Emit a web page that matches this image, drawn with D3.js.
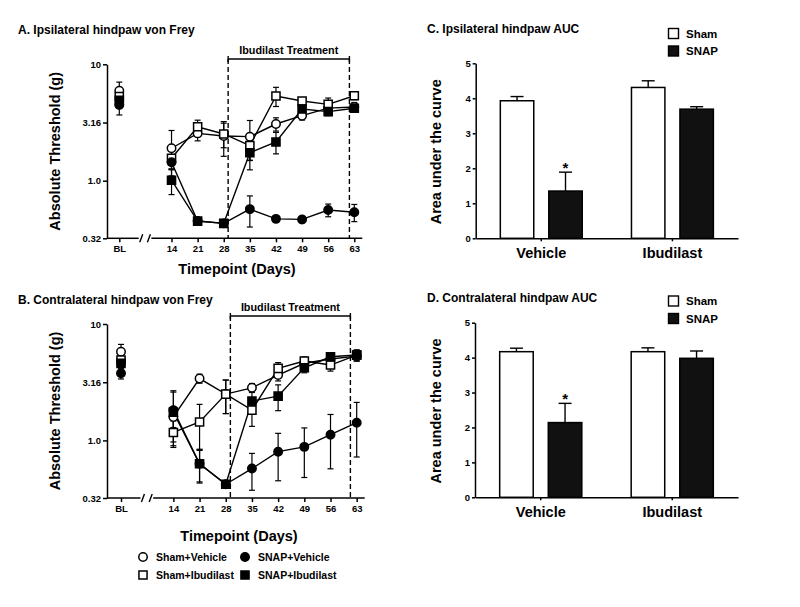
<!DOCTYPE html>
<html><head><meta charset="utf-8">
<script src="https://cdn.jsdelivr.net/npm/d3@7"></script>
<style>
body{margin:0;background:#fff}
svg{display:block}
text{font-family:"Liberation Sans",Arial,sans-serif;font-weight:bold;fill:#000}
</style>
</head><body><svg id="c" width="800" height="607"></svg>
<script>
// ---------- data ----------
const days = [0,14,21,28,35,42,49,56,63];
const dayLabels = ["BL","14","21","28","35","42","49","56","63"];
const groups = ["Sham+Vehicle","Sham+Ibudilast","SNAP+Vehicle","SNAP+Ibudilast"];
const treatmentWindow = [29.5, 61.5];
const thresholdTicks = [0.32, 1.0, 3.16, 10];
const thresholdTickLabels = ["0.32","1.0","3.16","10"];

// Panel A – ipsilateral
const ipsiShamVeh    = [5.93,1.90,2.55,2.42,2.39,3.07,3.62,4.20,4.30];
const ipsiShamVehSem = [1.10,0.80,0.35,0.80,0.90,0.40,0.30,0.40,0.40];
const ipsiShamIbu    = [5.27,1.56,2.91,2.52,2.00,5.34,4.84,4.53,5.37];
const ipsiShamIbuSem = [0.50,0.30,0.40,0.60,0.50,1.00,0.30,0.60,0.40];
const ipsiSnapVeh    = [4.47,1.44,0.45,0.43,0.57,0.47,0.465,0.56,0.535];
const ipsiSnapVehSem = [0.80,0.20,0.03,0.03,0.17,0.03,0.03,0.07,0.09];
const ipsiSnapIbu    = [4.90,1.01,0.45,0.43,1.74,2.15,4.13,3.92,4.19];
const ipsiSnapIbuSem = [0.50,0.25,0.03,0.03,0.50,0.45,0.30,0.30,0.30];

// Panel B – contralateral
const contraShamVeh    = [5.78,1.59,3.40,2.50,2.83,3.64,4.60,5.00,5.30];
const contraShamVehSem = [0.90,0.30,0.30,0.80,0.25,0.40,0.40,0.50,0.50];
const contraShamIbu    = [4.90,1.17,1.44,2.50,1.82,4.16,4.81,4.44,5.41];
const contraShamIbuSem = [0.50,0.30,0.60,0.80,0.50,0.50,0.40,0.50,0.60];
const contraSnapVeh    = [3.77,1.82,0.63,0.42,0.573,0.80,0.88,1.12,1.42];
const contraSnapVehSem = [0.40,0.85,0.19,0.03,0.20,0.35,0.40,0.55,0.70];
const contraSnapIbu    = [4.59,1.75,0.63,0.42,2.18,2.40,4.21,5.23,5.41];
const contraSnapIbuSem = [0.40,0.85,0.20,0.03,0.50,0.60,0.40,0.40,0.50];

// Panels C/D – AUC
const aucCategories = ["Vehicle","Ibudilast"];
const aucGroups = ["Sham","SNAP"];
const aucTicks = [0,1,2,3,4,5];
const ipsiAucSham      = [3.93,4.31];
const ipsiAucShamSem   = [0.12,0.19];
const ipsiAucSnap      = [1.35,3.69];
const ipsiAucSnapSem   = [0.54,0.07];
const contraAucSham    = [4.17,4.17];
const contraAucShamSem = [0.10,0.11];
const contraAucSnap    = [2.14,3.98];
const contraAucSnapSem = [0.55,0.21];
const aucSignificance  = ["*",""];

// ---------- drawing ----------
const svg = d3.select("#c");
const groupStyle = {
  "Sham+Vehicle":   {shape:d3.symbolCircle, size:56, fill:"#fff"},
  "Sham+Ibudilast": {shape:d3.symbolSquare, size:66, fill:"#fff"},
  "SNAP+Vehicle":   {shape:d3.symbolCircle, size:56, fill:"#000"},
  "SNAP+Ibudilast": {shape:d3.symbolSquare, size:66, fill:"#000"}
};

function linePanel(cfg){
  const g = svg.append("g");
  const y = d3.scaleLog().domain([0.32,10]).range([cfg.bottom, cfg.top]);
  const x = d3.scaleLinear().domain([0,63]).range([cfg.x0, cfg.x1]);

  g.append("text").attr("x",18).attr("y",cfg.titleY).attr("font-size",12).text(cfg.title);

  // y axis
  const ya = g.append("g").attr("transform",`translate(${cfg.axisX},0)`)
    .call(d3.axisLeft(y).tickValues(thresholdTicks)
      .tickFormat((d,i)=>thresholdTickLabels[i]).tickSize(4).tickSizeOuter(0));
  ya.selectAll("path,line").attr("stroke","#000").attr("stroke-width",1.5);
  ya.selectAll("text").attr("font-size",9.5).attr("font-family","Liberation Sans, Arial, sans-serif").attr("font-weight","bold").attr("x",-6);

  // x axis
  const xa = g.append("g").attr("transform",`translate(0,${cfg.bottom})`)
    .call(d3.axisBottom(x).tickValues(days).tickFormat((d,i)=>dayLabels[i]).tickSize(4).tickSizeOuter(0));
  xa.select(".domain").remove();
  xa.selectAll("line").attr("stroke","#000").attr("stroke-width",1.5);
  xa.selectAll("text").attr("font-size",9.5).attr("font-family","Liberation Sans, Arial, sans-serif").attr("font-weight","bold").attr("y",7);
  const bx1 = x(5.2), bx2 = x(8.6);
  g.append("line").attr("x1",cfg.axisX).attr("x2",bx1).attr("y1",cfg.bottom).attr("y2",cfg.bottom).attr("stroke","#000").attr("stroke-width",1.5);
  g.append("line").attr("x1",bx2).attr("x2",cfg.x1+8).attr("y1",cfg.bottom).attr("y2",cfg.bottom).attr("stroke","#000").attr("stroke-width",1.5);
  [bx1+1, bx2-4].forEach(bx=>{
    g.append("line").attr("x1",bx).attr("x2",bx+3).attr("y1",cfg.bottom+4).attr("y2",cfg.bottom-4).attr("stroke","#000").attr("stroke-width",1.4);
  });

  // axis titles
  g.append("text").attr("transform",`translate(${cfg.ylabX},${(cfg.top+cfg.bottom)/2}) rotate(-90)`)
    .attr("text-anchor","middle").attr("font-size",14.5).text("Absolute Threshold (g)");
  g.append("text").attr("x",cfg.xlabX).attr("y",cfg.xlabY).attr("text-anchor","middle").attr("font-size",14.5).text("Timepoint (Days)");

  // treatment bracket
  const tx0 = x(treatmentWindow[0]) + cfg.dash0, tx1 = x(treatmentWindow[1]) + cfg.dash1;
  [tx0,tx1].forEach(tx=>{
    g.append("line").attr("x1",tx).attr("x2",tx).attr("y1",cfg.brY).attr("y2",cfg.bottom)
      .attr("stroke","#000").attr("stroke-width",1.4).attr("stroke-dasharray","5,3");
    g.append("line").attr("x1",tx).attr("x2",tx).attr("y1",cfg.brY-3).attr("y2",cfg.brY+3)
      .attr("stroke","#000").attr("stroke-width",1.4);
  });
  g.append("line").attr("x1",tx0).attr("x2",tx1).attr("y1",cfg.brY).attr("y2",cfg.brY).attr("stroke","#000").attr("stroke-width",1.5);
  g.append("text").attr("x",(tx0+tx1)/2).attr("y",cfg.brY-5).attr("text-anchor","middle").attr("font-size",10.8).text("Ibudilast Treatment");

  // series
  cfg.series.forEach(s=>{
    const pts = days.map((d,i)=>({d, v:s.mean[i], e:s.sem[i]}));
    const line = d3.line().x(p=>x(p.d)).y(p=>y(p.v));
    g.append("path").attr("d",line(pts.slice(1))).attr("fill","none").attr("stroke","#000").attr("stroke-width",1.4);
    pts.forEach(p=>{
      const lo = y(Math.max(0.33,p.v-p.e)), hi = y(p.v+p.e), cx = x(p.d);
      g.append("line").attr("x1",cx).attr("x2",cx).attr("y1",lo).attr("y2",hi).attr("stroke","#000").attr("stroke-width",1.2);
      [lo,hi].forEach(yy=>g.append("line").attr("x1",cx-3).attr("x2",cx+3).attr("y1",yy).attr("y2",yy).attr("stroke","#000").attr("stroke-width",1.2));
    });
  });
  cfg.series.forEach(s=>{
    const st = groupStyle[s.name];
    days.forEach((d,i)=>{
      g.append("path").attr("d",d3.symbol(st.shape, st.size)())
        .attr("transform",`translate(${x(d)},${y(s.mean[i])})`)
        .attr("fill",st.fill).attr("stroke","#000").attr("stroke-width",1.5);
    });
  });
}

linePanel({
  title:"A. Ipsilateral hindpaw von Frey", titleY:34,
  top:64.3, bottom:238.3, axisX:107, x0:119.3, x1:354.3,
  ylabX:60, xlabX:237, xlabY:274, brY:59, dash0:-1.2, dash1:0.7,
  series:[
    {name:"Sham+Vehicle", mean:ipsiShamVeh, sem:ipsiShamVehSem},
    {name:"Sham+Ibudilast", mean:ipsiShamIbu, sem:ipsiShamIbuSem},
    {name:"SNAP+Vehicle", mean:ipsiSnapVeh, sem:ipsiSnapVehSem},
    {name:"SNAP+Ibudilast", mean:ipsiSnapIbu, sem:ipsiSnapIbuSem}
  ]
});
linePanel({
  title:"B. Contralateral hindpaw von Frey", titleY:304,
  top:324, bottom:498, axisX:107, x0:121, x1:356.7,
  ylabX:60, xlabX:239, xlabY:541, brY:316, dash0:-1, dash1:-0.7,
  series:[
    {name:"Sham+Vehicle", mean:contraShamVeh, sem:contraShamVehSem},
    {name:"Sham+Ibudilast", mean:contraShamIbu, sem:contraShamIbuSem},
    {name:"SNAP+Vehicle", mean:contraSnapVeh, sem:contraSnapVehSem},
    {name:"SNAP+Ibudilast", mean:contraSnapIbu, sem:contraSnapIbuSem}
  ]
});

// bottom legend
const legendPos = [[143,557],[143,575],[245,557],[245,575]];
groups.forEach((name,i)=>{
  const st = groupStyle[name];
  const [lx,ly] = legendPos[i];
  svg.append("path").attr("d",d3.symbol(st.shape, st.size)())
    .attr("transform",`translate(${lx},${ly})`).attr("fill",st.fill).attr("stroke","#000").attr("stroke-width",1.5);
  svg.append("text").attr("x",lx+13).attr("y",ly+4).attr("font-size",10.5).text(name);
});

function barPanel(cfg){
  const g = svg.append("g");
  const y = d3.scaleLinear().domain([0,5]).range([cfg.bottom, cfg.top]);
  const x0 = d3.scaleBand().domain(aucCategories).range([cfg.left, cfg.right]);
  const x1 = d3.scaleBand().domain(aucGroups).range([0, x0.bandwidth()]).paddingInner(0.31).paddingOuter(0.508);

  g.append("text").attr("x",427).attr("y",cfg.titleY).attr("font-size",12).text(cfg.title);

  const ya = g.append("g").attr("transform",`translate(${cfg.left},0)`)
    .call(d3.axisLeft(y).tickValues(aucTicks).tickFormat(d3.format("d")).tickSize(3).tickSizeOuter(0));
  ya.selectAll("path,line").attr("stroke","#000").attr("stroke-width",1.5);
  ya.selectAll("text").attr("font-size",9.5).attr("font-family","Liberation Sans, Arial, sans-serif").attr("font-weight","bold").attr("x",-5);

  const xa = g.append("g").attr("transform",`translate(0,${cfg.bottom})`)
    .call(d3.axisBottom(x0).tickSize(3).tickSizeOuter(0));
  xa.selectAll("path,line").attr("stroke","#000").attr("stroke-width",1.5);
  xa.selectAll("text").attr("font-size",14.5).attr("font-family","Liberation Sans, Arial, sans-serif").attr("font-weight","bold").attr("y",9);

  g.append("text").attr("transform",`translate(${cfg.ylabX},${(cfg.top+cfg.bottom)/2+1}) rotate(-90)`)
    .attr("text-anchor","middle").attr("font-size",14.5).text("Area under the curve");

  const sets = [
    {grp:"Sham", vals:cfg.sham, sems:cfg.shamSem, fill:"#fff"},
    {grp:"SNAP", vals:cfg.snap, sems:cfg.snapSem, fill:"#111"}
  ];
  sets.forEach(s=>{
    aucCategories.forEach((c,i)=>{
      const bx = x0(c)+x1(s.grp), bw = x1.bandwidth(), cx = bx+bw/2;
      const top = y(s.vals[i]+s.sems[i]);
      g.append("line").attr("x1",cx).attr("x2",cx).attr("y1",y(s.vals[i])).attr("y2",top).attr("stroke","#000").attr("stroke-width",1.4);
      g.append("line").attr("x1",cx-6.5).attr("x2",cx+6.5).attr("y1",top).attr("y2",top).attr("stroke","#000").attr("stroke-width",1.4);
      g.append("rect").attr("x",bx).attr("y",y(s.vals[i])).attr("width",bw).attr("height",cfg.bottom-y(s.vals[i]))
        .attr("fill",s.fill).attr("stroke","#000").attr("stroke-width",1.5);
      if(s.grp==="SNAP" && aucSignificance[i]){
        g.append("text").attr("x",cx).attr("y",top+1).attr("text-anchor","middle").attr("font-size",15).text(aucSignificance[i]);
      }
    });
  });

  // legend
  aucGroups.forEach((name,i)=>{
    const ly = cfg.legY + i*17.5;
    g.append("rect").attr("x",668.5).attr("y",ly-5).attr("width",10).attr("height",10)
      .attr("fill",i===0?"#fff":"#111").attr("stroke","#000").attr("stroke-width",1.4);
    g.append("text").attr("x",686).attr("y",ly+4).attr("font-size",11.5).text(name);
  });
}

barPanel({
  title:"C. Ipsilateral hindpaw AUC", titleY:33,
  top:63.3, bottom:238.3, left:475.7, right:738, ylabX:441, legY:33.5,
  sham:ipsiAucSham, shamSem:ipsiAucShamSem, snap:ipsiAucSnap, snapSem:ipsiAucSnapSem
});
barPanel({
  title:"D. Contralateral hindpaw AUC", titleY:302,
  top:322.7, bottom:497.3, left:475, right:738, ylabX:441, legY:301,
  sham:contraAucSham, shamSem:contraAucShamSem, snap:contraAucSnap, snapSem:contraAucSnapSem
});
</script>
</body></html>
